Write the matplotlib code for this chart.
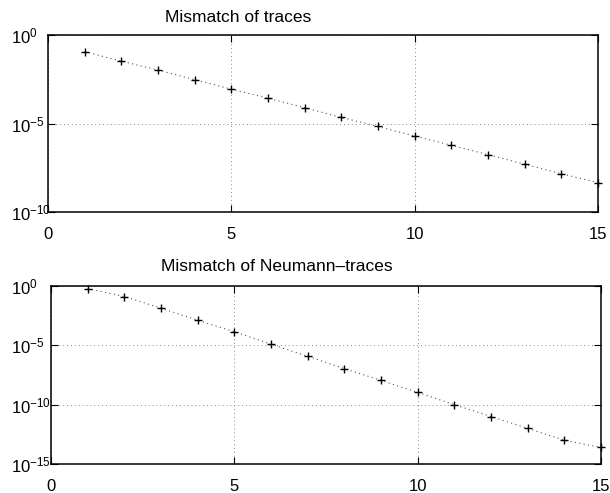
import matplotlib
matplotlib.use("Agg")
import matplotlib.pyplot as plt
from matplotlib.ticker import FixedLocator, NullLocator, LogFormatterSciNotation

plt.rcParams['font.family'] = ['Liberation Sans', 'DejaVu Sans']
plt.rcParams['mathtext.fontset'] = 'custom'
plt.rcParams['mathtext.rm'] = 'Liberation Sans'
plt.rcParams['mathtext.it'] = 'Liberation Sans:italic'
plt.rcParams['mathtext.bf'] = 'Liberation Sans:bold'

n = [1, 2, 3, 4, 5, 6, 7, 8, 9, 10, 11, 12, 13, 14, 15]
traces = [1.15e-1, 3.3e-2, 1.05e-2, 3.0e-3, 8.7e-4, 2.7e-4, 7.8e-5, 2.2e-5,
          6.8e-6, 1.95e-6, 5.9e-7, 1.74e-7, 5.0e-8, 1.45e-8, 4.6e-9]
neumann = [6.0e-1, 1.3e-1, 1.35e-2, 1.3e-3, 1.4e-4, 1.26e-5, 1.2e-6, 1.1e-7,
           1.1e-8, 1.07e-9, 1.0e-10, 1.0e-11, 1.0e-12, 1.0e-13, 2.5e-14]
titles = ["Mismatch of traces", "Mismatch of Neumann\u2013traces"]
xticks = [0, 5, 10, 15]
yticks_top = [1e0, 1e-5, 1e-10]
yticks_bot = [1e0, 1e-5, 1e-10, 1e-15]

fig = plt.figure(figsize=(6.10, 4.93), dpi=100)
ax1 = fig.add_axes([48/610, 1-212/493, 550/610, 177/493])
ax2 = fig.add_axes([51/610, 1-464/493, 550/610, 178/493])

specs = [
    (ax1, traces, yticks_top, (1e-10, 1e0), titles[0], 238, 48, 9),
    (ax2, neumann, yticks_bot, (1e-15, 1e0), titles[1], 277, 51, 11),
]
for ax, data, yt, ylim, title, tcx, left_px, tpad in specs:
    ax.set_yscale('log')
    ax.plot(n, data, linestyle=(0, (1, 3)), color='#555555', linewidth=0.8,
            marker='+', markersize=6, markeredgecolor='black',
            markeredgewidth=1.0, clip_on=False, zorder=3)
    ax.set_xlim(0, 15)
    ax.set_ylim(*ylim)
    ax.xaxis.set_major_locator(FixedLocator(xticks))
    ax.yaxis.set_major_locator(FixedLocator(yt))
    ax.yaxis.set_minor_locator(NullLocator())
    ax.yaxis.set_major_formatter(LogFormatterSciNotation())
    ax.grid(True, linestyle=(0, (1, 3)), color='#888888', linewidth=0.7)
    ax.tick_params(direction='in', top=True, right=True, length=5,
                   width=0.8, labelsize=12)
    ax.tick_params(axis='x', pad=11)
    # left-align y labels so the base "10" starts at a fixed column
    ax.tick_params(axis='y', pad=(left_px - 11) * 72 / 100)
    for s in ax.spines.values():
        s.set_linewidth(1.1)
    ax.set_title(title, fontsize=12.5, x=(tcx - left_px)/550, pad=tpad)

fig.canvas.draw()
for ax in (ax1, ax2):
    for lab in ax.get_yticklabels():
        lab.set_horizontalalignment('left')

fig.savefig("out.png", dpi=100)
